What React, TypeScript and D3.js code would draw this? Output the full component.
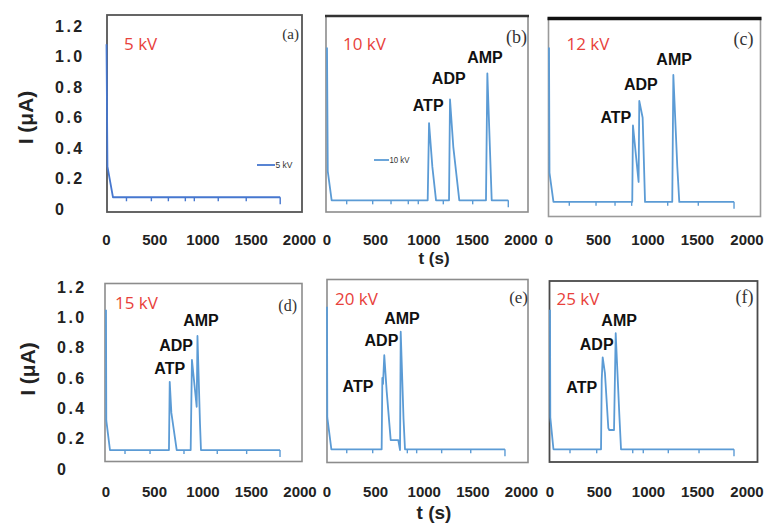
import React from "react";
import * as d3 from "d3";

// ---------- data ----------
const panelIds = ["(a)", "(b)", "(c)", "(d)", "(e)", "(f)"];
const voltages = ["5 kV", "10 kV", "12 kV", "15 kV", "20 kV", "25 kV"];
const xTicks = [0, 500, 1000, 1500, 2000];
const yTicks = [0, 0.2, 0.4, 0.6, 0.8, 1.0, 1.2];
const yTickLabels = ["0", "0.2", "0.4", "0.6", "0.8", "1.0", "1.2"];
const peakNames = ["ATP", "ADP", "AMP"];

const tA = [0, 10, 67, 1800];
const iA = [1.08, 0.28, 0.08, 0.08];
const tB = [0, 8, 48, 1038, 1052, 1086, 1124, 1258, 1268, 1302, 1364, 1639, 1653, 1698, 1869];
const iB = [1.06, 0.25, 0.06, 0.06, 0.565, 0.28, 0.06, 0.06, 0.72, 0.41, 0.06, 0.06, 0.89, 0.06, 0.06];
const tC = [0, 5, 45, 841, 848, 905, 912, 946, 970, 1245, 1256, 1296, 1316, 1869];
const iC = [1.06, 0.24, 0.05, 0.05, 0.55, 0.18, 0.71, 0.6, 0.05, 0.05, 0.88, 0.28, 0.05, 0.05];
const tD = [0, 3, 41, 649, 657, 674, 729, 873, 886, 935, 943, 969, 979, 1794];
const iD = [1.05, 0.32, 0.125, 0.125, 0.575, 0.37, 0.125, 0.125, 0.72, 0.41, 0.877, 0.3, 0.125, 0.125];
const tE = [0, 3, 45, 562, 569, 576, 589, 614, 655, 733, 751, 758, 787, 802, 1830];
const iE = [1.07, 0.34, 0.13, 0.13, 0.6, 0.56, 0.75, 0.51, 0.19, 0.19, 0.125, 0.905, 0.33, 0.13, 0.13];
const tF = [0, 3, 35, 518, 525, 535, 558, 592, 602, 650, 667, 704, 721, 1868];
const iF = [1.05, 0.34, 0.13, 0.13, 0.587, 0.736, 0.63, 0.27, 0.257, 0.257, 0.895, 0.356, 0.13, 0.13];

// times of the small error markers along the baseline
const errA = [207, 465, 641, 817, 910, 1158, 1448, 1800];
const errB = [203, 471, 660, 838, 941, 1199, 1502, 1869];
const errC = [205, 475, 667, 835, 1199, 1508, 1869];
const errD = [196, 454, 804, 1147, 1450, 1794];
const errE = [203, 470, 826, 922, 1179, 1478, 1830];
const errF = [203, 474, 840, 947, 1201, 1513, 1868];
const baselines = [0.08, 0.06, 0.05, 0.125, 0.13, 0.13];

// peak label anchors (t, I) for ATP, ADP, AMP
const labTB = [1043, 1255, 1629];
const labIB = [0.682, 0.857, 0.997];
const labTC = [675, 927, 1264];
const labIC = [0.603, 0.816, 0.98];
const labTD = [657, 722, 979];
const labID = [0.66, 0.811, 0.976];
const labTE = [319, 560, 771];
const labIE = [0.547, 0.844, 0.994];
const labTF = [322, 474, 702];
const labIF = [0.537, 0.824, 0.982];

const legendLabels = ["5 kV", "10 kV"];

// ---------- layout ----------
const boxes = [
  { x: 107, y: 15, w: 195, h: 197, stroke: "#555", sw: 1.8 },
  { x: 326, y: 16, w: 202, h: 196, stroke: "#8c8c8c", sw: 1.6 },
  { x: 548.5, y: 18.5, w: 212, h: 198, stroke: "#9a9a9a", sw: 1.6 },
  { x: 105, y: 283.5, w: 197, h: 178, stroke: "#8c8c8c", sw: 1.6 },
  { x: 327, y: 279.5, w: 201, h: 183, stroke: "#8c8c8c", sw: 1.6 },
  { x: 549.5, y: 281, w: 208, h: 181, stroke: "#4a4a4a", sw: 1.8 },
];
const topBorders = [null, { c: "#333", w: 2.4 }, { c: "#111", w: 3.6 }, null, null, null];
const xRanges: [number, number][] = [
  [106.5, 299.5], [327, 521], [549, 747], [106, 300], [327, 521.5], [550, 747],
];
const rowY: [number, number][] = [[209.5, 26], [469, 287]];
const tickLabelY = [245, 497];
const yLabelX = [55, 57];
const kvOffsets = [[17, 43], [17, 43], [18, 43], [10, 302.5], [8, 298.3], [7, 298]];
const letterPos = [[299, 34, 15], [527, 36.7, 18], [753.5, 39, 18], [297, 305, 16], [528, 297, 17], [753.5, 296.5, 18]];

const series = [
  { t: tA, i: iA, err: errA, labT: null, labI: null, color: "#4677cf" },
  { t: tB, i: iB, err: errB, labT: labTB, labI: labIB, color: "#5b9bd5" },
  { t: tC, i: iC, err: errC, labT: labTC, labI: labIC, color: "#5b9bd5" },
  { t: tD, i: iD, err: errD, labT: labTD, labI: labID, color: "#5b9bd5" },
  { t: tE, i: iE, err: errE, labT: labTE, labI: labIE, color: "#5b9bd5" },
  { t: tF, i: iF, err: errF, labT: labTF, labI: labIF, color: "#5b9bd5" },
];

const legendPos = [
  { x1: 257, x2: 275, y: 165, tx: 275.5, tl: 17 },
  { x1: 374, x2: 389, y: 160, tx: 389.5, tl: 20 },
];

const bold = "'Liberation Sans', Arial, sans-serif";

export default function App() {
  const yScales = rowY.map((r) => d3.scaleLinear().domain([0, 1.2]).range(r));
  return (
    <svg
      width={764}
      height={524}
      style={{ position: "absolute", left: 0, top: 0, background: "#fff" }}
    >
      <rect x={0} y={0} width={764} height={524} fill="#fff" />
      {/* y axis tick labels and titles per row */}
      {yScales.map((ys, r) => (
        <g key={"row" + r}>
          {yTicks.map((v, k) => (
            <text
              key={k}
              x={yLabelX[r]}
              y={ys(v)}
              dominantBaseline="central"
              fontFamily={bold}
              fontWeight="bold"
              fontSize={16}
              letterSpacing={2.5}
              fill="#222"
            >
              {yTickLabels[k]}
            </text>
          ))}
          <text
            transform={`translate(${r === 0 ? 33 : 35},${r === 0 ? 117.5 : 369}) rotate(-90)`}
            textAnchor="middle"
            fontFamily={bold}
            fontWeight="bold"
            fontSize={21}
            fill="#222"
          >
            I (μA)
          </text>
        </g>
      ))}
      <text x={434} y={264} textAnchor="middle" fontFamily={bold} fontWeight="bold" fontSize={17} fill="#222">
        t (s)
      </text>
      <text x={434} y={519} textAnchor="middle" fontFamily={bold} fontWeight="bold" fontSize={19} fill="#222">
        t (s)
      </text>

      {series.map((s, p) => {
        const row = p < 3 ? 0 : 1;
        const ys = yScales[row];
        const xs = d3.scaleLinear().domain([0, 2000]).range(xRanges[p]);
        const pts = s.t.map((t, k) => [t, s.i[k]] as [number, number]);
        const line = d3
          .line<[number, number]>()
          .x((d) => xs(d[0]))
          .y((d) => ys(d[1]));
        const b = boxes[p];
        const tb = topBorders[p];
        return (
          <g key={p}>
            <rect x={b.x} y={b.y} width={b.w} height={b.h} fill="none" stroke={b.stroke} strokeWidth={b.sw} />
            {tb && <line x1={b.x - 1} x2={b.x + b.w + 1} y1={b.y} y2={b.y} stroke={tb.c} strokeWidth={tb.w} />}
            <path d={line(pts) || ""} fill="none" stroke={s.color} strokeWidth={1.8} strokeLinejoin="round" />
            {s.err.map((t, k) => (
              <line
                key={k}
                x1={xs(t)}
                x2={xs(t)}
                y1={ys(baselines[p])}
                y2={ys(baselines[p]) + (k === s.err.length - 1 ? 7 : 4)}
                stroke={s.color}
                strokeWidth={1.4}
              />
            ))}
            {xTicks.map((v) => (
              <text
                key={v}
                x={xs(v)}
                y={tickLabelY[row]}
                textAnchor="middle"
                fontFamily={bold}
                fontWeight="bold"
                fontSize={15}
                fill="#222"
              >
                {v}
              </text>
            ))}
            <text
              x={b.x + kvOffsets[p][0]}
              y={kvOffsets[p][1]}
              dominantBaseline="central"
              fontFamily="'Open Sans', sans-serif"
              fontSize={17}
              fill="#e8413b"
            >
              {voltages[p]}
            </text>
            <text
              x={letterPos[p][0]}
              y={letterPos[p][1]}
              textAnchor="end"
              dominantBaseline="central"
              fontFamily="'Liberation Serif', 'DejaVu Serif', serif"
              fontSize={letterPos[p][2]}
              fill="#333"
            >
              {panelIds[p]}
            </text>
            {s.labT &&
              s.labT.map((t, k) => (
                <text
                  key={k}
                  x={xs(t)}
                  y={ys(s.labI![k])}
                  textAnchor="middle"
                  dominantBaseline="central"
                  fontFamily={bold}
                  fontWeight="bold"
                  fontSize={16}
                  fill="#111"
                >
                  {peakNames[k]}
                </text>
              ))}
            {p < 2 && (
              <g>
                <line
                  x1={legendPos[p].x1}
                  x2={legendPos[p].x2}
                  y1={legendPos[p].y}
                  y2={legendPos[p].y}
                  stroke={s.color}
                  strokeWidth={1.8}
                />
                <text
                  x={legendPos[p].tx}
                  y={legendPos[p].y}
                  dominantBaseline="central"
                  fontFamily={bold}
                  fontSize={9}
                  textLength={legendPos[p].tl}
                  lengthAdjust="spacingAndGlyphs"
                  fill="#333"
                >
                  {legendLabels[p]}
                </text>
              </g>
            )}
          </g>
        );
      })}
    </svg>
  );
}
